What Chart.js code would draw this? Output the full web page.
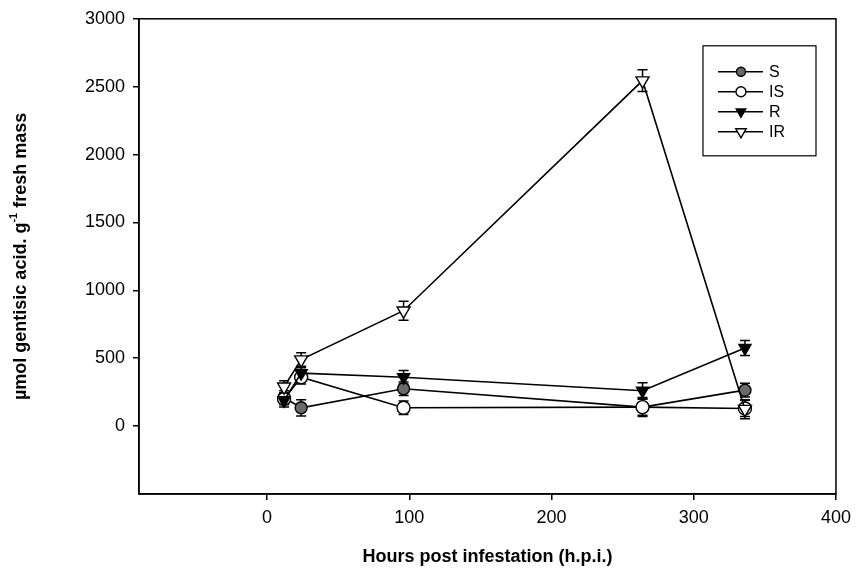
<!DOCTYPE html>
<html lang="en">

<head>
  <meta charset="utf-8">
  <title>Gentisic acid after infestation</title>
  <script src="https://cdn.jsdelivr.net/npm/chart.js@4.4.0/dist/chart.umd.min.js"></script>
  <style>
    html, body { margin: 0; padding: 0; background: #fff; }
  </style>
</head>

<body>
  <canvas id="myChart" width="858" height="580"></canvas>

  <script>
    // hours post infestation (sampling times)
    const hours = [12, 24, 96, 264, 336];

    // umol gentisic acid per g fresh mass
    const sValues = [210, 135, 275, 140, 265];
    const isValues = [200, 360, 135, 140, 130];
    const rValues = [190, 390, 360, 260, 575];
    const irValues = [290, 490, 850, 2545, 125];

    // error bar half-lengths
    const sErr = [50, 60, 50, 60, 50];
    const isErr = [40, 50, 50, 70, 60];
    const rErr = [50, 40, 50, 60, 55];
    const irErr = [45, 50, 70, 80, 70];

    const seriesNames = ['S', 'IS', 'R', 'IR'];
    const xTicks = [0, 100, 200, 300, 400];
    const yTicks = [0, 500, 1000, 1500, 2000, 2500, 3000];

    const FONT = "'Liberation Sans', Arial, Helvetica, sans-serif";
    Chart.defaults.font.family = FONT;
    Chart.defaults.color = '#000';

    function makeSet(label, values, errs, style, fill, radius, order) {
      return {
        label: label,
        data: hours.map((h, i) => ({ x: h, y: values[i] })),
        errors: errs,
        order: order, // later series sit on top, like the original
        borderColor: '#000',
        borderWidth: 1.6,
        backgroundColor: fill,
        pointStyle: style,
        pointRotation: style === 'triangle' ? 180 : 0,
        pointRadius: radius,
        pointBackgroundColor: fill,
        pointBorderColor: '#000',
        pointBorderWidth: 1.4,
        tension: 0,
        fill: false
      };
    }

    // frame around the plot area
    const framePlugin = {
      id: 'frame',
      afterDraw(chart) {
        const a = chart.chartArea, ctx = chart.ctx;
        ctx.save();
        ctx.strokeStyle = '#000';
        ctx.lineWidth = 1.5;
        ctx.strokeRect(a.left, a.top, a.right - a.left, a.bottom - a.top);
        ctx.restore();
      }
    };

    // vertical error bars with caps, drawn under the markers
    const errorBarPlugin = {
      id: 'errorBars',
      beforeDatasetsDraw(chart) {
        const ctx = chart.ctx;
        const xs = chart.scales.x, ys = chart.scales.y;
        ctx.save();
        ctx.strokeStyle = '#000';
        ctx.lineWidth = 1.5;
        chart.data.datasets.forEach(ds => {
          ds.data.forEach((p, i) => {
            const e = ds.errors[i];
            const x = xs.getPixelForValue(p.x);
            const y1 = ys.getPixelForValue(p.y + e);
            const y2 = ys.getPixelForValue(p.y - e);
            ctx.beginPath();
            ctx.moveTo(x, y1); ctx.lineTo(x, y2);
            ctx.moveTo(x - 5, y1); ctx.lineTo(x + 5, y1);
            ctx.moveTo(x - 5, y2); ctx.lineTo(x + 5, y2);
            ctx.stroke();
          });
        });
        ctx.restore();
      }
    };

    // boxed legend in the top right corner of the plot
    const boxLegendPlugin = {
      id: 'boxLegend',
      afterDraw(chart) {
        const ctx = chart.ctx;
        const a = chart.chartArea;
        const bx = a.right - 133, by = a.top + 27, bw = 113, bh = 110;
        ctx.save();
        ctx.strokeStyle = '#000';
        ctx.lineWidth = 1.2;
        ctx.strokeRect(bx, by, bw, bh);
        chart.data.datasets.forEach((ds, i) => {
          const y = by + 26 + i * 20;
          ctx.strokeStyle = '#000';
          ctx.lineWidth = 1.6;
          ctx.beginPath();
          ctx.moveTo(bx + 15, y); ctx.lineTo(bx + 60, y);
          ctx.stroke();
          ctx.fillStyle = ds.pointBackgroundColor;
          ctx.lineWidth = 1.4;
          Chart.helpers.drawPoint(ctx, {
            pointStyle: ds.pointStyle,
            rotation: ds.pointRotation,
            radius: ds.pointRadius - 1.5,
            borderWidth: 1.4
          }, bx + 38, y);
          ctx.fillStyle = '#000';
          ctx.font = '16px ' + FONT;
          ctx.textBaseline = 'middle';
          ctx.textAlign = 'left';
          ctx.fillText(seriesNames[i], bx + 66, y + 1);
        });
        ctx.restore();
      }
    };

    // rotated y title with the superscript -1
    const yTitlePlugin = {
      id: 'yTitle',
      afterDraw(chart) {
        const ctx = chart.ctx;
        const a = chart.chartArea;
        const big = 'bold 18px ' + FONT, small = 'bold 11px ' + FONT;
        const p1 = '\u00b5mol gentisic acid. g', sup = '-1', p2 = ' fresh mass';
        ctx.save();
        ctx.font = big;
        const w1 = ctx.measureText(p1).width, w3 = ctx.measureText(p2).width;
        ctx.font = small;
        const w2 = ctx.measureText(sup).width;
        ctx.translate(21, (a.top + a.bottom) / 2);
        ctx.rotate(-Math.PI / 2);
        ctx.fillStyle = '#000';
        ctx.textBaseline = 'middle';
        ctx.textAlign = 'left';
        let x = -(w1 + w2 + w3) / 2;
        ctx.font = big; ctx.fillText(p1, x, 0); x += w1;
        ctx.font = small; ctx.fillText(sup, x, -7); x += w2;
        ctx.font = big; ctx.fillText(p2, x, 0);
        ctx.restore();
      }
    };

    const ctx = document.getElementById('myChart');
    const myChart = new Chart(ctx, {
      type: 'line',
      data: {
        datasets: [
          makeSet(seriesNames[0], sValues, sErr, 'circle', '#6a6a6a', 6, 3),
          makeSet(seriesNames[1], isValues, isErr, 'circle', '#fff', 6.5, 2),
          makeSet(seriesNames[2], rValues, rErr, 'triangle', '#000', 7, 1),
          makeSet(seriesNames[3], irValues, irErr, 'triangle', '#fff', 7.5, 0)
        ]
      },
      options: {
        responsive: false,
        animation: false,
        layout: { padding: { top: 16, right: 18, left: 0, bottom: 0 } },
        plugins: {
          legend: { display: false },
          tooltip: { enabled: false }
        },
        scales: {
          x: {
            type: 'linear',
            min: -90,
            max: 400,
            afterBuildTicks: s => { s.ticks = xTicks.map(v => ({ value: v })); },
            afterFit: s => { s.height = 86; },
            grid: { drawOnChartArea: false, color: '#000', lineWidth: 1.5, tickLength: 6 },
            border: { color: '#000', width: 1.5 },
            ticks: {
              font: { size: 18 }, color: '#000', padding: 7, maxRotation: 0, autoSkip: false,
              callback: v => String(v)
            },
            title: {
              display: true,
              text: 'Hours post infestation (h.p.i.)',
              color: '#000',
              font: { size: 18, weight: 'bold' },
              padding: { top: 0, bottom: 12 }
            }
          },
          y: {
            type: 'linear',
            min: -500,
            max: 3000,
            afterBuildTicks: s => { s.ticks = yTicks.map(v => ({ value: v })); },
            afterFit: s => { s.width = 139; },
            grid: { drawOnChartArea: false, color: '#000', lineWidth: 1.5, tickLength: 6 },
            border: { color: '#000', width: 1.5 },
            ticks: { font: { size: 18 }, color: '#000', padding: 8, callback: v => String(v) }
          }
        }
      },
      plugins: [errorBarPlugin, framePlugin, boxLegendPlugin, yTitlePlugin]
    });
  </script>
</body>

</html>
